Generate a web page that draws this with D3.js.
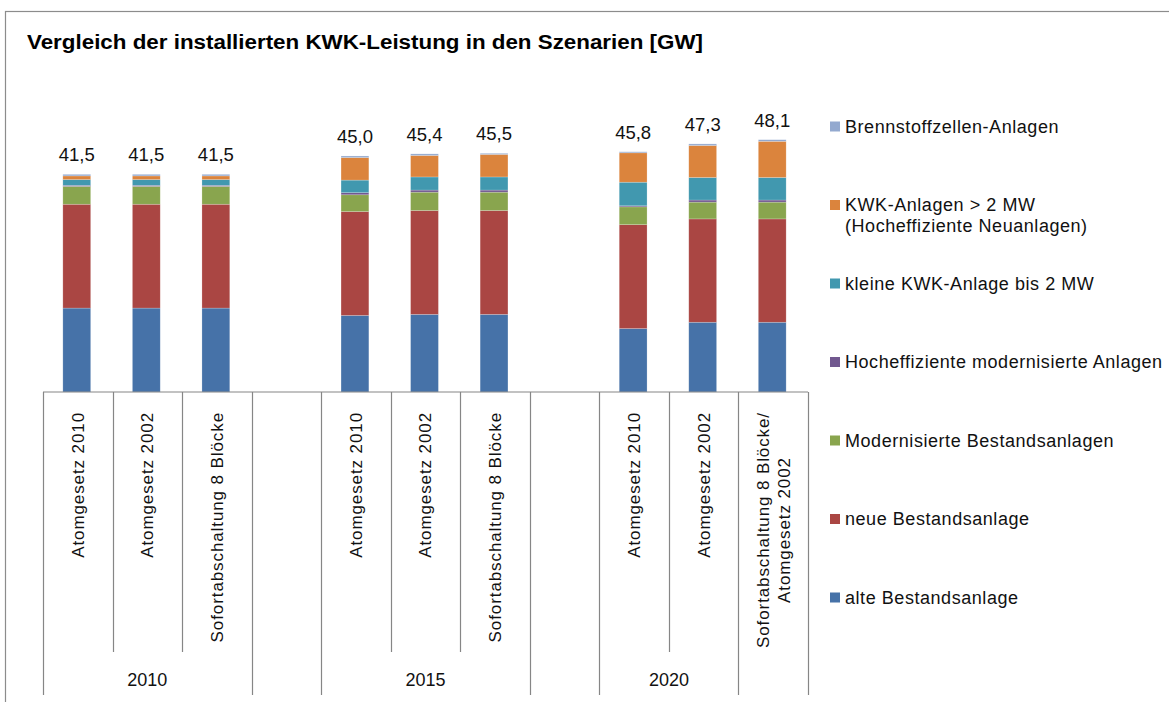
<!DOCTYPE html>
<html>
<head>
<meta charset="utf-8">
<script src="https://cdn.jsdelivr.net/npm/d3@7"></script>
<style>
  body { margin: 0; background: #fff; }
  svg { display: block; font-family: "Liberation Sans", Arial, sans-serif; }
</style>
</head>
<body>
<div id="chart"></div>
<script>
// categories (one slot per position on the axis, "" = empty spacer slot)
const slotLabels = [
    "Atomgesetz 2010", "Atomgesetz 2002", "Sofortabschaltung 8 Blöcke", "",
    "Atomgesetz 2010", "Atomgesetz 2002", "Sofortabschaltung 8 Blöcke", "",
    "Atomgesetz 2010", "Atomgesetz 2002", "Sofortabschaltung 8 Blöcke/\nAtomgesetz 2002"
];
const groupLabels = ["2010", "", "2015", "", "2020", ""];
const groupSpans = [3, 1, 3, 1, 2, 1];

// series values [GW], bottom to top
const alte     = [16.0, 16.0, 16.0, null, 14.6, 14.8, 14.8, null, 12.1, 13.3, 13.3];
const neue     = [19.8, 19.8, 19.8, null, 19.8, 19.8, 19.8, null, 19.8, 19.7, 19.7];
const modern   = [3.4, 3.4, 3.4, null, 3.2, 3.5, 3.5, null, 3.4, 3.2, 3.2];
const hocheff  = [0.2, 0.2, 0.2, null, 0.4, 0.4, 0.4, null, 0.2, 0.4, 0.4];
const kleine   = [1.1, 1.1, 1.1, null, 2.4, 2.5, 2.5, null, 4.5, 4.3, 4.3];
const kwkGross = [0.7, 0.7, 0.7, null, 4.3, 4.1, 4.3, null, 5.6, 6.1, 6.9];
const brenn    = [0.3, 0.3, 0.3, null, 0.3, 0.3, 0.2, null, 0.2, 0.3, 0.3];

const seriesNames = [
    "alte Bestandsanlage",
    "neue Bestandsanlage",
    "Modernisierte Bestandsanlagen",
    "Hocheffiziente modernisierte Anlagen",
    "kleine KWK-Anlage bis 2 MW",
    "KWK-Anlagen > 2 MW\n(Hocheffiziente Neuanlagen)",
    "Brennstoffzellen-Anlagen"
];
const seriesValues = [alte, neue, modern, hocheff, kleine, kwkGross, brenn];
const colors = ["#4672A8", "#AA4643", "#89A54E", "#71588F", "#4198AF", "#DB843D", "#93A9CF"];

const width = 1169, height = 702;
const plot = {left: 43, right: 808, base: 392};

let svg = d3.select("#chart").append("svg")
    .attr("width", width).attr("height", height);

// outer frame
svg.append("rect")
    .attr("x", 5.5).attr("y", 11.5)
    .attr("width", width + 20).attr("height", height + 20)
    .attr("fill", "none").attr("stroke", "#8c8c8c").attr("stroke-width", 1.2);

svg.append("text")
    .attr("x", 27).attr("y", 49)
    .attr("font-size", 20).attr("font-weight", "bold")
    .attr("textLength", 676).attr("lengthAdjust", "spacingAndGlyphs")
    .text("Vergleich der installierten KWK-Leistung in den Szenarien [GW]");

// table for d3.stack
let table = slotLabels.map(function(d, i) {
    let row = {slot: i};
    seriesNames.forEach(function(s, j) { row[s] = seriesValues[j][i] || 0; });
    row.total = seriesValues.reduce(function(a, arr) { return a + (arr[i] || 0); }, 0);
    row.empty = seriesValues[0][i] == null;
    return row;
});

let x = d3.scaleBand()
    .domain(d3.range(slotLabels.length))
    .range([plot.left, plot.right])
    .paddingInner(0).paddingOuter(0);

let y = d3.scaleLinear()
    .domain([0, 50])
    .range([plot.base, plot.base - 50 * 5.245]);

let barW = x.bandwidth() * 0.4;
let stacked = d3.stack().keys(seriesNames)(table);

let layers = svg.append("g").selectAll("g")
    .data(stacked)
    .enter().append("g")
    .attr("fill", function(d, i) { return colors[i]; });

layers.selectAll("rect")
    .data(function(d) { return d.filter(function(p) { return !p.data.empty; }); })
    .enter().append("rect")
    .attr("x", function(d) { return x(d.data.slot) + x.bandwidth() / 2 - barW / 2 - 1; })
    .attr("width", barW)
    .attr("y", function(d) { return y(d[1]); })
    .attr("height", function(d) { return y(d[0]) - y(d[1]); })
    .attr("stroke", "rgba(255,255,255,0.35)")
    .attr("stroke-width", 0.6);

// totals above bars
let de = d3.formatLocale({decimal: ",", thousands: ".", grouping: [3], currency: ["", "€"]});
let fmt = de.format(".1f");
svg.append("g").selectAll("text")
    .data(table.filter(function(d) { return !d.empty; }))
    .enter().append("text")
    .attr("x", function(d) { return x(d.slot) + x.bandwidth() / 2 - 1; })
    .attr("y", function(d) { return y(d.total) - 13; })
    .attr("text-anchor", "middle")
    .attr("font-size", 18.5)
    .attr("fill", "#111")
    .text(function(d) { return fmt(d.total); });

// category axis
let axis = svg.append("g").attr("stroke", "#868686").attr("stroke-width", 1.2);
axis.append("line")
    .attr("x1", plot.left).attr("x2", plot.right)
    .attr("y1", plot.base).attr("y2", plot.base);

let groupEdges = [0];
groupSpans.forEach(function(s, i) { groupEdges.push(groupEdges[i] + s); });

d3.range(slotLabels.length + 1).forEach(function(i) {
    let xx = i < slotLabels.length ? x(i) : plot.right;
    let isGroup = groupEdges.indexOf(i) >= 0;
    axis.append("line")
        .attr("x1", Math.round(xx) + 0.5).attr("x2", Math.round(xx) + 0.5)
        .attr("y1", plot.base).attr("y2", isGroup ? 695 : 652);
});

let catLabels = svg.append("g").selectAll("g")
    .data(slotLabels)
    .enter().append("g")
    .attr("transform", function(d, i) {
        return "translate(" + (x(i) + x.bandwidth() / 2) + ",0) rotate(-90)";
    });

catLabels.each(function(d) {
    if (!d) return;
    let lines = d.split("\n");
    let n = lines.length;
    let t = d3.select(this).append("text")
        .attr("font-size", 17)
        .attr("letter-spacing", 0.9)
        .attr("fill", "#111")
        .attr("text-anchor", "middle");
    let spans = lines.map(function(l, k) {
        return t.append("tspan")
            .attr("x", 0)
            .attr("y", (k - (n - 1) / 2) * 21)
            .attr("dy", "0.35em")
            .text(l);
    });
    let maxW = d3.max(spans, function(s) { return s.node().getComputedTextLength(); });
    spans.forEach(function(s) { s.attr("x", -(412 + maxW / 2)); });
});

// year labels
svg.append("g").selectAll("text")
    .data(groupLabels)
    .enter().append("text")
    .attr("x", function(d, i) {
        let a = x(groupEdges[i]);
        let b = groupEdges[i + 1] < slotLabels.length ? x(groupEdges[i + 1]) : plot.right;
        return (a + b) / 2;
    })
    .attr("y", 686)
    .attr("text-anchor", "middle")
    .attr("font-size", 18)
    .attr("fill", "#111")
    .text(function(d) { return d; });

// legend, top entry = last series
let legendOrder = d3.range(seriesNames.length).reverse();
let legend = svg.append("g").selectAll("g")
    .data(legendOrder)
    .enter().append("g")
    .attr("transform", function(d, i) { return "translate(830," + (126.5 + i * 78.5) + ")"; });

legend.append("rect")
    .attr("x", 0).attr("y", -5)
    .attr("width", 10).attr("height", 10)
    .attr("fill", function(d) { return colors[d]; });

legend.append("text")
    .attr("font-size", 18)
    .attr("letter-spacing", 0.55)
    .attr("fill", "#111")
    .each(function(d) {
        let t = d3.select(this);
        seriesNames[d].split("\n").forEach(function(l, k) {
            t.append("tspan")
                .attr("x", 15)
                .attr("y", k * 21)
                .attr("dy", "0.35em")
                .text(l);
        });
    });
</script>
</body>
</html>
